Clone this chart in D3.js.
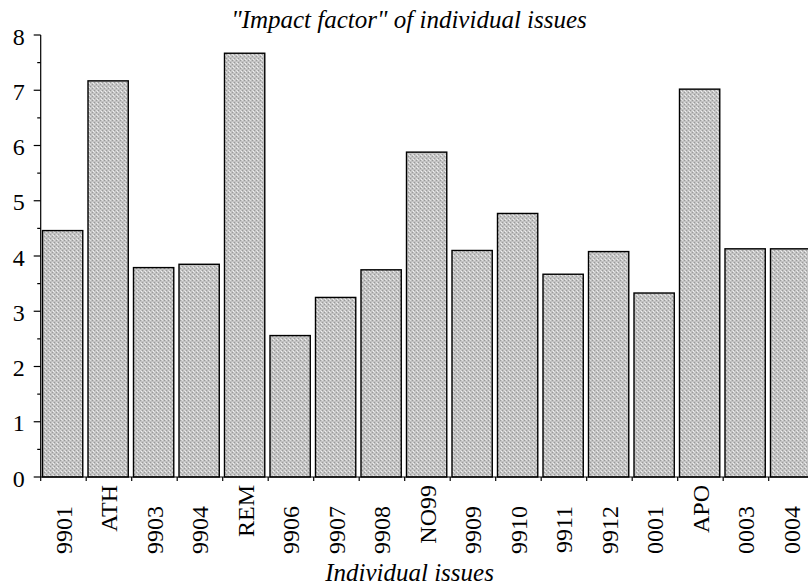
<!DOCTYPE html>
<html>
<head>
<meta charset="utf-8">
<script src="https://cdn.jsdelivr.net/npm/d3@7"></script>
</head>
<body style="margin:0;background:#fff">
<div id="chart"></div>
<script>
// ---- data ----
const categories = ["9901","ATH","9903","9904","REM","9906","9907","9908","NO99","9909","9910","9911","9912","0001","APO","0003","0004"];
const impactValues = [4.46, 7.17, 3.79, 3.85, 7.67, 2.56, 3.25, 3.75, 5.88, 4.10, 4.77, 3.67, 4.08, 3.33, 7.02, 4.13, 4.13];
const yTickValues = [0, 1, 2, 3, 4, 5, 6, 7, 8];
const yMinorTickValues = [0.5, 1.5, 2.5, 3.5, 4.5, 5.5, 6.5, 7.5];
const chartTitle = "\"Impact factor\" of individual issues";
const xAxisTitle = "Individual issues";

// ---- layout ----
const W = 808, H = 585;
const FONT = "\"Liberation Serif\"";
const svg = d3.select("#chart").append("svg").attr("width", W).attr("height", H).style("display", "block");

const x = d3.scaleBand().domain(categories).range([40.7, 814.2]).padding(0);
const y = d3.scaleLinear().domain([0, 8]).range([477, 35]);

// stipple pattern
const defs = svg.append("defs");
const pat = defs.append("pattern").attr("id", "stipple")
  .attr("patternUnits", "userSpaceOnUse").attr("width", 4).attr("height", 4);
pat.append("rect").attr("width", 4).attr("height", 4).attr("fill", "#c2c2c2");
[[0,0],[2,2]].forEach(([a,b]) => pat.append("rect").attr("x", a).attr("y", b).attr("width", 1).attr("height", 1).attr("fill", "#9a9a9a"));
[[2,0],[0,2]].forEach(([a,b]) => pat.append("rect").attr("x", a).attr("y", b).attr("width", 1).attr("height", 1).attr("fill", "#dedede"));
pat.append("rect").attr("x", 1).attr("y", 3).attr("width", 1).attr("height", 1).attr("fill", "#f0f0f0");

// bars
svg.append("g").selectAll("rect")
  .data(categories.map((c, i) => ({ c, v: impactValues[i] })))
  .join("rect")
  .attr("x", d => x(d.c) + 1.8)
  .attr("width", x.bandwidth() * 0.885)
  .attr("y", d => y(d.v))
  .attr("height", d => y(0) - y(d.v))
  .attr("fill", "url(#stipple)")
  .attr("stroke", "#000")
  .attr("stroke-width", 1.4);

// y axis
const yAxisG = svg.append("g").attr("transform", "translate(40.7,0)");
yAxisG.append("line").attr("y1", y(8)).attr("y2", y(0)).attr("stroke", "#000").attr("stroke-width", 1.2);
yAxisG.selectAll("line.major").data(yTickValues).join("line").attr("class", "major")
  .attr("x1", -7).attr("x2", 0).attr("y1", d => y(d)).attr("y2", d => y(d))
  .attr("stroke", "#000").attr("stroke-width", 1.2);
yAxisG.selectAll("line.minor").data(yMinorTickValues).join("line").attr("class", "minor")
  .attr("x1", -3.5).attr("x2", 0).attr("y1", d => y(d)).attr("y2", d => y(d))
  .attr("stroke", "#000").attr("stroke-width", 1.2);
yAxisG.selectAll("text").data(yTickValues).join("text")
  .attr("x", -16).attr("y", d => y(d)).attr("dy", "0.4em")
  .attr("text-anchor", "end").attr("font-size", 24).attr("fill", "#000")
  .style("font-family", FONT)
  .text(d => d);

// x axis
const xAxisG = svg.append("g").attr("transform", `translate(0,${y(0)})`);
xAxisG.append("line").attr("x1", 40.7).attr("x2", W).attr("stroke", "#000").attr("stroke-width", 1.2);
xAxisG.selectAll("line.tick").data(categories).join("line").attr("class", "tick")
  .attr("x1", d => x(d)).attr("x2", d => x(d)).attr("y1", 0).attr("y2", 4)
  .attr("stroke", "#000").attr("stroke-width", 1.2);
xAxisG.selectAll("text").data(categories).join("text")
  .attr("transform", d => `translate(${x(d) + x.bandwidth() / 2},${/^\d+$/.test(d) ? 29 : 8}) rotate(-90)`)
  .attr("dy", "0.34em")
  .attr("text-anchor", "end")
  .attr("font-size", 24).attr("fill", "#000")
  .style("font-family", FONT)
  .text(d => d);

// titles
svg.append("text").attr("x", 409).attr("y", 28).attr("text-anchor", "middle")
  .attr("font-size", 25).attr("font-style", "italic").attr("fill", "#000")
  .style("font-family", FONT).text(chartTitle);
svg.append("text").attr("x", 409.5).attr("y", 581).attr("text-anchor", "middle")
  .attr("font-size", 25).attr("font-style", "italic").attr("fill", "#000")
  .style("font-family", FONT).text(xAxisTitle);
</script>
</body>
</html>
